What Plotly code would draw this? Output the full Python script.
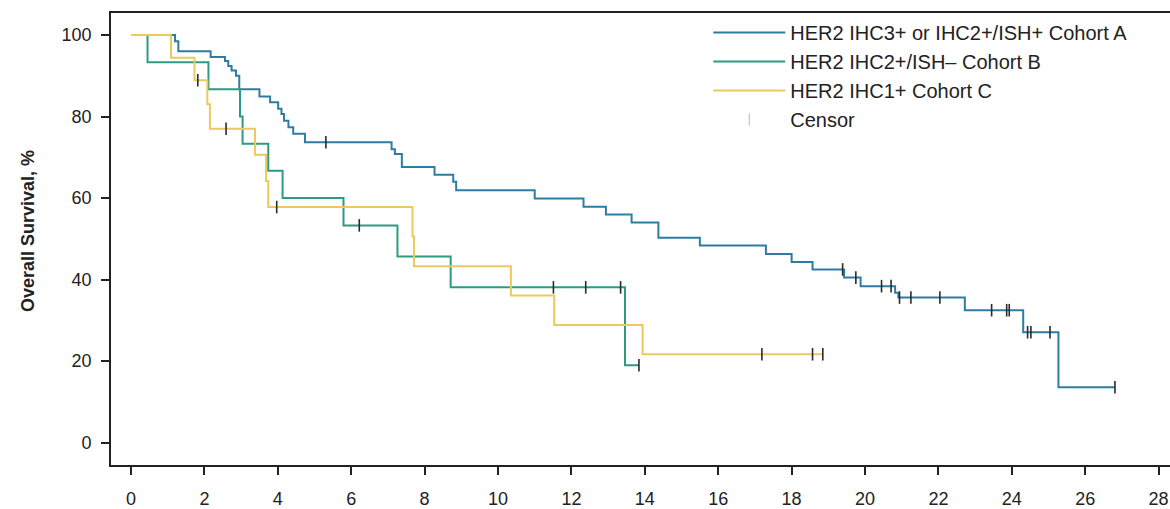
import plotly.graph_objects as go

# Cohort A: HER2 IHC3+ or IHC2+/ISH+
a_time = [0, 1.20, 1.29, 2.17, 2.56, 2.65, 2.74, 2.86, 2.95, 3.50, 3.79, 4.01, 4.10, 4.17, 4.29, 4.42, 4.74,
          7.10, 7.19, 7.38, 8.27, 8.78, 8.86, 11.0, 12.33, 12.94, 13.64, 14.37, 15.5, 17.3, 18.0, 18.57,
          19.43, 19.88, 20.82, 20.91, 22.72, 24.31, 25.27]
a_surv = [100, 98.5, 96.0, 94.6, 93.6, 92.4, 91.3, 90.0, 86.7, 84.9, 83.5, 81.9, 80.6, 79.0, 77.4, 75.8, 73.7,
          72.0, 70.8, 67.6, 65.7, 64.0, 61.9, 59.9, 57.9, 56.0, 54.0, 50.3, 48.4, 46.3, 44.3, 42.5,
          40.5, 38.4, 36.8, 35.6, 32.5, 27.1, 13.6]
a_end = 26.81
a_censor = [5.31, 19.39, 19.75, 20.45, 20.71, 20.94, 21.25, 22.04, 23.45, 23.86, 23.93, 24.43, 24.52, 25.04, 26.81]

# Cohort B: HER2 IHC2+/ISH-
b_time = [0, 0.45, 2.11, 2.97, 3.04, 3.74, 4.13, 5.79, 7.26, 8.71, 13.46]
b_surv = [100, 93.3, 86.7, 80.0, 73.3, 66.7, 60.0, 53.3, 45.7, 38.1, 19.0]
b_end = 13.84
b_censor = [6.22, 11.51, 12.39, 13.34, 13.84]

# Cohort C: HER2 IHC1+
c_time = [0, 1.09, 1.73, 2.08, 2.15, 3.38, 3.68, 3.74, 7.67, 7.71, 10.35, 11.53, 13.94]
c_surv = [100, 94.4, 88.9, 83.0, 77.0, 70.6, 64.2, 57.8, 50.6, 43.3, 36.1, 28.9, 21.7]
c_end = 18.85
c_censor = [1.82, 2.59, 3.97, 17.19, 18.57, 18.85]

names = ["HER2 IHC3+ or IHC2+/ISH+ Cohort A", "HER2 IHC2+/ISH\u2013 Cohort B", "HER2 IHC1+ Cohort C"]
colors = ["#2f7ca2", "#2e9a82", "#ecc95c"]

x_ticks = list(range(0, 29, 2))
y_ticks = list(range(0, 101, 20))

FONT = "Liberation Sans, Arial, sans-serif"


def step_value(times, surv, t):
    v = surv[0]
    for ti, si in zip(times, surv):
        if ti <= t:
            v = si
    return v


fig = go.Figure()
series = [(a_time, a_surv, a_end, a_censor), (b_time, b_surv, b_end, b_censor), (c_time, c_surv, c_end, c_censor)]
for (t, s, e, cz), name, col in zip(series, names, colors):
    fig.add_trace(go.Scatter(x=t + [e], y=s + [s[-1]], mode="lines", line=dict(shape="hv", color=col, width=2),
                             name=name, hoverinfo="skip"))
for (t, s, e, cz), col in zip(series, colors):
    fig.add_trace(go.Scatter(x=cz, y=[step_value(t, s, c) for c in cz], mode="markers",
                             marker=dict(symbol="line-ns", size=9, line=dict(width=1.6, color="#2a2a2a")),
                             showlegend=False, hoverinfo="skip"))
fig.add_trace(go.Scatter(x=[None], y=[None], mode="markers", name="Censor",
                         marker=dict(symbol="line-ns", size=9, line=dict(width=1, color="#bbbbbb"))))

axis_common = dict(showgrid=False, zeroline=False, showline=True, linecolor="#222222", linewidth=1.6,
                   ticks="outside", ticklen=8, tickwidth=1.5, tickcolor="#222222",
                   tickfont=dict(family=FONT, size=18, color="#222222"))

fig.update_layout(
    width=1170, height=509,
    margin=dict(l=111, r=0, t=13, b=40),
    plot_bgcolor="white", paper_bgcolor="white",
    xaxis=dict(range=[-0.545, 28.31], tickvals=x_ticks, mirror=True, ticklabelstandoff=9, **axis_common),
    yaxis=dict(range=[-5.47, 105.4], tickvals=y_ticks, ticklabelstandoff=6, **axis_common),
    legend=dict(x=0.564, y=1.0, xanchor="left", yanchor="top", bgcolor="rgba(0,0,0,0)",
                font=dict(family=FONT, size=20, color="#222222"),
                itemwidth=72, tracegroupgap=0),
    showlegend=True,
)
fig.add_annotation(text="<b>Overall Survival, %</b>", xref="paper", yref="y", x=-0.079, y=52,
                   textangle=-90, showarrow=False, xanchor="center", yanchor="middle",
                   font=dict(family=FONT, size=18, color="#222222"))

fig.write_html("out.html")
